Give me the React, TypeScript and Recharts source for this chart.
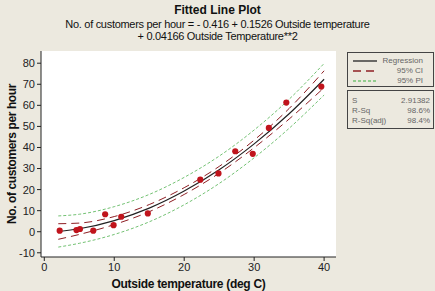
import { ComposedChart, Line, Scatter, XAxis, YAxis, ZAxis, CartesianGrid, Label } from "recharts";

const temps = [2.2, 4.6, 5.1, 7.0, 8.7, 9.9, 11.0, 14.8, 22.3, 24.9, 27.3, 29.8, 32.1, 34.6, 39.6];
const customers = [0.5, 0.8, 1.3, 0.5, 8.3, 3.1, 7.1, 8.7, 24.7, 27.7, 38.2, 37.0, 49.3, 61.3, 68.9];

// fitted curve and bands, read at a few temperatures
const curveTemps = [2, 5, 10, 15, 20, 25, 30, 35, 40];
const fitValues = [0.1, 1.4, 5.3, 11.2, 19.3, 29.4, 41.7, 56.0, 72.4];
const ciUpper = [3.8, 4.1, 7.2, 12.9, 20.9, 31.0, 43.5, 58.5, 76.4];
const ciLower = [-3.6, -1.3, 3.4, 9.5, 17.7, 27.8, 39.9, 53.5, 68.4];
const piUpper = [7.5, 8.3, 11.9, 17.7, 25.8, 35.9, 48.3, 62.9, 79.9];
const piLower = [-7.3, -5.5, -1.3, 4.7, 12.8, 22.9, 35.1, 49.1, 64.9];

const xTicks = [0, 10, 20, 30, 40];
const yTicks = [-10, 0, 10, 20, 30, 40, 50, 60, 70, 80];

const statLabels = ["S", "R-Sq", "R-Sq(adj)"];
const statValues = ["2.91382", "98.6%", "98.4%"];

const curveRows = curveTemps.map((t, i) => ({
  t,
  fit: fitValues[i],
  ciUp: ciUpper[i],
  ciLo: ciLower[i],
  piUp: piUpper[i],
  piLo: piLower[i],
}));
const pointRows = temps.map((t, i) => ({ t, y: customers[i] }));

const font = "Tahoma, 'Liberation Sans', Arial, sans-serif";
const bg = "#ECE9DF";
const ciColor = "#8E1F24";
const piColor = "#74C274";

function Swatch({ color, dash }: { color: string; dash?: string }) {
  return (
    <svg width={24} height={6} style={{ position: "absolute", left: 5, top: 1 }}>
      <line x1={0} y1={3} x2={24} y2={3} stroke={color} strokeWidth={1.3} strokeDasharray={dash} />
    </svg>
  );
}

export default function App() {
  const legendRows = [
    { name: "Regression", color: "#222", dash: undefined },
    { name: "95% CI", color: ciColor, dash: "8 5" },
    { name: "95% PI", color: piColor, dash: "3 2" },
  ];

  return (
    <div style={{ position: "absolute", left: 0, top: 0, width: 435, height: 291, background: bg, fontFamily: font }}>
      <div style={{ position: "absolute", left: 0, width: 435, top: 3, textAlign: "center", fontWeight: "bold", fontSize: 12, color: "#111" }}>
        Fitted Line Plot
      </div>
      <div style={{ position: "absolute", left: 0, width: 435, top: 18, textAlign: "center", fontSize: 11, lineHeight: "12px", letterSpacing: -0.3, color: "#111" }}>
        No. of customers per hour = - 0.416 + 0.1526 Outside temperature
        <br />+ 0.04166 Outside Temperature**2
      </div>

      <ComposedChart width={435} height={291} data={curveRows} margin={{ top: 51, right: 99, bottom: 0, left: 0 }}>
        <CartesianGrid fill="#fff" horizontal={false} vertical={false} />
        <XAxis
          type="number"
          dataKey="t"
          domain={[-0.47, 41.7]}
          ticks={xTicks}
          allowDataOverflow
          height={34}
          tickSize={4}
          stroke="#222"
          tick={{ fill: "#222", fontSize: 11, fontFamily: font }}
        >
          <Label value="Outside temperature (deg C)" position="insideBottom" offset={3} style={{ fontWeight: "bold", fontSize: 12, letterSpacing: -0.3, fill: "#111", fontFamily: font }} />
        </XAxis>
        <XAxis xAxisId="top" orientation="top" type="number" dataKey="t" domain={[-0.47, 41.7]} height={0} tick={false} tickLine={false} stroke="#222" />
        <YAxis
          type="number"
          domain={[-12, 85.8]}
          ticks={yTicks}
          allowDataOverflow
          width={41}
          tickSize={4}
          tickMargin={2}
          stroke="#222"
          tick={{ fill: "#222", fontSize: 11, fontFamily: font }}
        >
          <Label value="No. of customers per hour" angle={-90} position="insideLeft" offset={12} style={{ textAnchor: "middle", fontWeight: "bold", fontSize: 12, letterSpacing: -0.4, fill: "#111", fontFamily: font }} />
        </YAxis>
        <YAxis yAxisId="right" orientation="right" width={0} tick={false} tickLine={false} stroke="#222" />
        <ZAxis range={[30, 30]} />

        <Line dataKey="piUp" type="monotone" stroke={piColor} strokeDasharray="3 2" dot={false} isAnimationActive={false} />
        <Line dataKey="piLo" type="monotone" stroke={piColor} strokeDasharray="3 2" dot={false} isAnimationActive={false} />
        <Line dataKey="ciUp" type="monotone" stroke={ciColor} strokeDasharray="8 5" dot={false} isAnimationActive={false} />
        <Line dataKey="ciLo" type="monotone" stroke={ciColor} strokeDasharray="8 5" dot={false} isAnimationActive={false} />
        <Line dataKey="fit" type="monotone" stroke="#222" strokeWidth={1.2} dot={false} isAnimationActive={false} />
        <Scatter data={pointRows} dataKey="y" fill="#C0141C" shape="circle" isAnimationActive={false} />
      </ComposedChart>

      <div style={{ position: "absolute", left: 347, top: 52, width: 85, height: 33, border: "1px solid #444", fontSize: 8, color: "#666" }}>
        {legendRows.map((r, i) => (
          <div key={r.name} style={{ position: "absolute", left: 0, right: 0, top: 4 + i * 10, height: 9 }}>
            <Swatch color={r.color} dash={r.dash} />
            <span style={{ position: "absolute", right: 10, top: -1 }}>{r.name}</span>
          </div>
        ))}
      </div>
      <div style={{ position: "absolute", left: 347, top: 90, width: 85, height: 37, border: "1px solid #444", fontSize: 8, color: "#666" }}>
        {statLabels.map((s, i) => (
          <div key={s} style={{ position: "absolute", left: 4, right: 3, top: 5 + i * 10, height: 9 }}>
            <span style={{ position: "absolute", left: 0 }}>{s}</span>
            <span style={{ position: "absolute", right: 0 }}>{statValues[i]}</span>
          </div>
        ))}
      </div>
    </div>
  );
}
